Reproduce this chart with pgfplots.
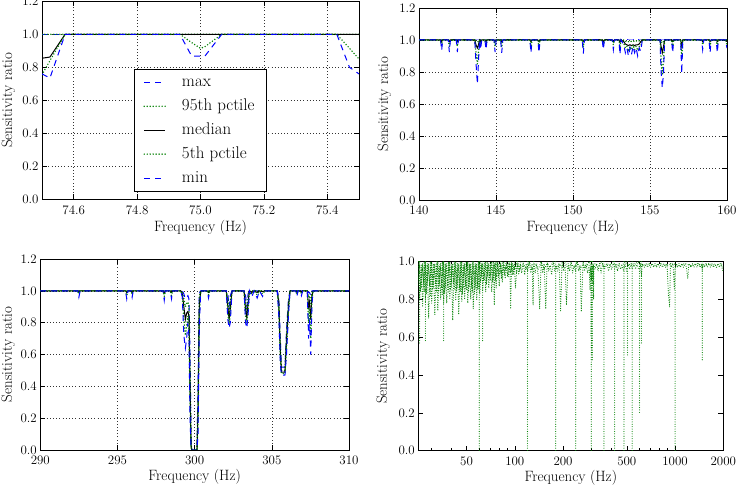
\documentclass[border=0pt]{standalone}
\usepackage{pgfplots}
\usepackage{pgfplotstable}
\pgfplotsset{compat=1.18}
\definecolor{mblue}{RGB}{0,0,255}
\definecolor{mgreen}{RGB}{0,128,0}

\pgfplotstableread{
f mx p95 med p5 mn
74.500 1 1 0.855 0.755 0.76
74.525 1 1 0.862 0.84 0.735
74.573 1 1 1 1 1
74.935 1 1 1 1 1
74.972 1 1 1 0.95 0.868
75.000 1 1 1 0.915 0.868
75.014 1 1 1 0.925 0.868
75.067 1 1 1 1 1
75.430 1 1 1 1 1
75.470 1 1 1 0.915 0.80
75.500 1 1 1 0.85 0.76
}\tabA

\pgfplotstableread{
f mx p95 med p5 mn
140.00 1 1 1 1 1
141.40 1 1 1 1 1
141.47 1 1 0.99 0.965 0.935
141.54 1 1 1 1 1
141.90 1 1 1 1 1
141.97 1 1 0.99 0.96 0.925
142.04 1 1 1 1 1
142.42 1 1 1 1 1
142.49 1 1 0.99 0.96 0.925
142.56 1 1 1 1 1
143.62 1 1 1 1 1
143.70 1 0.99 0.97 0.92 0.86
143.79 1 0.99 0.95 0.85 0.725
143.86 1 0.99 0.97 0.92 0.86
143.93 1 1 1 1 1
144.00 1 1 0.99 0.97 0.94
144.07 1 1 1 1 1
144.28 1 1 1 1 1
144.35 1 1 0.99 0.97 0.94
144.42 1 1 1 1 1
144.87 1 1 1 1 1
144.94 1 1 0.99 0.96 0.925
145.01 1 1 1 1 1
145.30 1 1 1 1 1
145.37 1 1 0.99 0.955 0.92
145.44 1 1 1 1 1
147.20 1 1 1 1 1
147.27 1 1 0.99 0.955 0.92
147.34 1 1 1 1 1
147.72 1 1 1 1 1
147.79 1 1 0.99 0.955 0.92
147.86 1 1 1 1 1
150.60 1 1 1 1 1
150.67 1 1 0.99 0.955 0.915
150.74 1 1 1 1 1
151.90 1 1 1 1 1
151.97 1 1 0.99 0.97 0.94
152.04 1 1 1 1 1
152.55 1 1 1 1 1
152.62 1 1 0.99 0.97 0.94
152.69 1 1 1 1 1
152.98 1 1 1 1 1
153.05 1 1 0.985 0.955 0.91
153.12 1 1 1 1 1
153.30 1 1 0.99 0.98 0.97
153.40 1 0.99 0.975 0.95 0.92
153.50 1 0.995 0.97 0.96 0.95
153.60 1 0.99 0.965 0.93 0.90
153.70 1 0.995 0.97 0.96 0.95
153.80 1 0.99 0.965 0.94 0.91
153.90 1 0.995 0.97 0.97 0.96
154.00 1 0.99 0.965 0.94 0.92
154.10 1 0.995 0.97 0.96 0.95
154.20 1 0.99 0.97 0.935 0.90
154.30 1 0.995 0.975 0.96 0.95
154.40 1 1 0.99 0.96 0.93
154.50 1 1 1 1 1
155.65 1 1 1 1 1
155.72 1 0.99 0.96 0.88 0.80
155.80 1 0.98 0.92 0.78 0.70
155.88 1 0.99 0.96 0.88 0.80
155.95 1 1 1 1 1
156.40 1 1 1 1 1
156.47 1 1 0.99 0.955 0.92
156.54 1 1 1 1 1
156.99 1 1 1 1 1
157.06 1 0.99 0.96 0.88 0.79
157.13 1 1 1 1 1
158.35 1 1 1 1 1
158.42 1 1 0.99 0.97 0.94
158.49 1 1 1 1 1
158.83 1 1 1 1 1
158.90 1 1 0.99 0.96 0.92
158.97 1 1 1 1 1
159.30 1 1 1 1 1
159.37 1 1 0.99 0.96 0.92
159.44 1 1 1 1 1
159.90 1 1 1 1 1
160.00 1 1 0.99 0.97 0.95
}\tabB

\pgfplotstableread{
f mx p95 med p5 mn
290.00 1 1 1 1 1
292.42 1 1 1 1 1
292.50 1 1 0.995 0.98 0.96
292.58 1 1 1 1 1
295.52 1 1 1 1 1
295.60 1 1 0.99 0.97 0.95
295.68 1 1 1 1 1
295.88 1 1 1 1 1
295.95 1 1 0.99 0.975 0.96
296.02 1 1 1 1 1
297.95 1 1 1 1 1
298.03 1 0.995 0.985 0.965 0.94
298.11 1 1 1 1 1
298.42 1 1 1 1 1
298.50 1 1 0.99 0.97 0.95
298.58 1 1 1 1 1
299.10 1 1 1 1 1
299.20 1 0.99 0.98 0.97 0.96
299.30 0.98 0.95 0.90 0.82 0.72
299.40 0.95 0.90 0.82 0.72 0.64
299.48 0.96 0.92 0.86 0.78 0.70
299.56 0.97 0.93 0.87 0.84 0.80
299.63 0.95 0.90 0.84 0.78 0.72
299.70 0.60 0.50 0.40 0.30 0.20
299.77 0.05 0.03 0.02 0.01 0
299.82 0 0 0 0 0
300.15 0 0 0 0 0
300.22 0.40 0.30 0.25 0.20 0.10
300.30 0.98 0.96 0.90 0.85 0.75
300.38 1 1 0.99 0.98 0.97
300.45 1 1 1 1 1
300.82 1 1 1 1 1
300.90 1 1 0.99 0.975 0.955
300.98 1 1 1 1 1
302.05 1 1 1 1 1
302.15 0.98 0.95 0.90 0.86 0.82
302.23 0.90 0.86 0.82 0.79 0.765
302.31 0.97 0.94 0.89 0.85 0.80
302.42 1 1 1 1 1
303.20 1 1 1 1 1
303.30 0.97 0.93 0.88 0.84 0.80
303.38 0.90 0.86 0.83 0.80 0.765
303.46 0.98 0.95 0.92 0.88 0.85
303.55 1 1 1 1 1
303.70 1 1 0.99 0.98 0.96
303.85 1 1 1 1 1
304.05 1 1 0.99 0.975 0.955
304.20 1 1 1 1 1
304.40 1 1 0.995 0.98 0.965
304.55 1 1 1 1 1
305.35 1 1 1 1 1
305.45 0.96 0.94 0.92 0.88 0.85
305.55 0.70 0.66 0.62 0.58 0.55
305.62 0.52 0.50 0.49 0.48 0.47
305.85 0.52 0.50 0.49 0.48 0.47
305.95 0.75 0.72 0.68 0.64 0.60
306.08 0.95 0.93 0.90 0.88 0.85
306.18 1 1 1 1 1
306.55 1 1 1 1 1
306.62 1 1 0.995 0.98 0.965
306.70 1 1 1 1 1
306.85 1 1 1 1 1
306.92 1 1 0.99 0.98 0.97
307.00 1 1 1 1 1
307.30 1 1 1 1 1
307.38 0.99 0.96 0.90 0.80 0.70
307.44 0.99 0.97 0.93 0.88 0.82
307.52 0.97 0.92 0.82 0.70 0.60
307.60 1 0.99 0.97 0.95 0.92
307.68 1 1 1 1 1
310.00 1 1 1 1 1
}\tabC

% panel 4: lower percentile trace
\pgfplotstableread{
f v
25.0 1.00
25.5 0.80
26.1 0.98
26.6 0.76
27.2 1.00
27.7 0.79
28.4 0.99
29.0 0.70
29.7 1.00
30.3 0.78
31.0 0.99
31.7 0.72
32.4 1.00
33.1 0.74
33.8 0.98
34.5 0.80
35.3 1.00
36.0 0.78
36.8 0.99
37.6 0.78
38.5 1.00
39.3 0.80
40.2 0.98
41.0 0.69
41.9 1.00
42.8 0.80
43.8 0.99
44.7 0.72
45.7 1.00
46.7 0.79
47.7 0.98
48.7 0.80
49.8 1.00
50.9 0.78
52.0 0.99
53.1 0.80
54.3 1.00
55.0 0.75
56.7 0.99
57.9 0.80
59.2 1.00
60.5 0.83
61.8 0.99
63.1 0.85
64.5 0.99
65.9 0.84
67.3 1.00
68.8 0.86
70.3 0.99
71.8 0.84
73.4 1.00
74.5 0.77
75.5 1.00
76.6 0.86
78.3 0.99
80.0 0.87
81.7 1.00
83.5 0.89
85.3 0.98
87.2 0.91
89.1 1.00
91.0 0.92
93.0 0.99
94.2 0.75
95.5 1.00
97.0 0.93
99.2 0.99
101.0 0.86
103.6 1.00
105.8 0.93
108.0 0.99
110.4 0.94
112.8 1.00
115.3 0.93
117.8 0.99
120.4 0.95
123.0 1.00
125.7 0.94
128.4 0.99
130.0 0.77
131.2 1.00
134.0 0.94
137.0 0.99
139.9 0.93
143.0 0.75
146.0 1.00
149.2 0.94
152.5 0.99
156.0 0.75
159.2 1.00
162.7 0.95
166.2 0.98
169.8 0.93
173.5 1.00
177.3 0.95
181.1 0.98
185.0 0.95
189.1 0.99
193.0 0.74
197.4 1.00
201.7 0.95
206.0 0.98
210.0 0.77
215.1 0.99
219.8 0.95
224.6 1.00
229.5 0.94
234.4 0.98
239.6 0.95
244.8 1.00
250.1 0.95
255.5 0.98
260.0 0.735
266.7 1.00
272.5 0.95
278.5 0.99
284.5 0.94
290.7 0.98
295.0 0.85
297.0 0.97
300.8 0.90
303.5 0.98
306.0 0.88
308.5 0.99
310.0 0.80
312.0 0.98
316.9 0.96
323.8 0.99
330.8 0.95
338.0 0.99
345.4 0.94
353.0 0.99
360.6 0.96
368.5 0.97
376.4 0.99
384.7 0.95
393.0 0.99
401.6 0.96
410.3 0.99
419.3 0.96
428.3 0.99
437.7 0.95
447.2 0.99
457.0 0.96
466.9 0.98
477.1 0.95
487.4 0.99
497.8 0.95
508.8 0.99
519.9 0.96
531.2 0.99
540.5 0.96
554.6 0.99
566.7 0.96
579.0 0.99
591.6 0.96
600.5 0.96
608.0 0.99
617.0 0.92
625.0 0.99
644.9 0.97
658.9 0.99
673.2 0.97
687.8 0.99
702.8 0.97
718.1 0.99
733.8 0.97
749.7 0.99
766.1 0.97
782.7 0.99
799.8 0.97
817.1 0.99
835.0 0.97
853.0 0.99
871.6 0.97
890.6 0.99
910.0 0.82
925.0 0.76
935.0 0.99
950.0 0.97
970.6 0.99
990.0 0.85
1000.5 0.96
1013.3 0.99
1035.0 0.97
1057.9 0.99
1081.0 0.97
1104.5 0.99
1128.6 0.97
1153.1 0.99
1178.3 0.97
1200.0 0.91
1220.0 0.99
1256.8 0.97
1284.2 0.99
1312.1 0.97
1340.7 0.99
1369.8 0.97
1399.8 0.99
1430.1 0.97
1460.0 0.99
1478.0 0.95
1493.0 0.99
1524.5 0.97
1558.7 0.99
1592.7 0.97
1627.3 0.99
1662.9 0.97
1698.9 0.99
1736.0 0.97
1773.6 0.99
1812.3 0.97
1851.6 0.99
1892.0 0.97
1933.1 0.99
1975.0 0.96
1990.0 0.95
2000.0 0.95
}\tabD

% panel 4: upper percentile trace
\pgfplotstableread{
f v
25.0 0.88
25.5 1.00
26.1 0.86
26.6 0.99
27.2 0.84
27.7 1.00
28.4 0.88
29.0 0.99
29.7 0.82
30.3 1.00
31.0 0.86
31.7 0.99
32.4 0.84
33.1 1.00
33.8 0.87
34.5 0.99
35.3 0.82
36.0 1.00
36.8 0.86
37.6 0.99
38.5 0.84
39.3 1.00
40.2 0.87
41.0 0.99
41.9 0.85
42.8 1.00
43.8 0.86
44.7 0.99
45.7 0.84
46.7 1.00
47.7 0.86
48.7 0.99
49.8 0.85
50.9 1.00
52.0 0.87
53.1 0.99
54.3 0.84
55.5 1.00
56.7 0.86
57.9 0.99
59.2 0.85
60.5 1.00
61.8 0.92
63.1 0.99
64.5 0.90
65.9 1.00
67.3 0.92
68.8 0.99
70.3 0.90
71.8 1.00
73.4 0.91
75.0 0.99
76.6 0.92
78.3 1.00
80.0 0.93
81.7 0.99
83.5 0.93
85.3 1.00
87.2 0.95
89.1 0.99
91.0 0.95
93.0 1.00
95.0 0.95
97.0 0.99
99.2 0.96
103.6 1.00
108.0 0.96
112.8 0.99
117.8 0.96
123.0 1.00
128.4 0.96
134.0 0.99
139.9 0.96
146.0 1.00
152.5 0.96
159.2 0.99
166.2 0.97
173.5 1.00
181.1 0.96
189.1 0.99
197.4 0.97
206.0 1.00
215.1 0.96
224.6 0.99
234.4 0.97
244.8 1.00
255.5 0.96
266.7 0.99
278.5 0.97
290.7 1.00
303.5 0.97
316.9 0.99
330.8 0.97
345.4 1.00
360.6 0.97
376.4 0.99
393.0 0.98
410.3 1.00
428.3 0.97
447.2 0.99
466.9 0.98
487.4 1.00
508.8 0.98
531.2 0.99
554.6 0.98
579.0 1.00
631.1 0.98
687.8 0.99
749.7 0.98
817.1 0.99
890.6 0.98
970.6 0.99
1057.9 0.98
1153.1 0.99
1256.8 0.98
1369.8 0.99
1493.0 0.98
1627.3 0.99
1773.6 0.98
1933.1 0.99
2000.0 0.97
}\tabE

% panel 4: median-like trace, low frequencies
\pgfplotstableread{
f v
25.2 1.00
25.8 0.84
26.4 0.99
27.0 0.88
27.5 1.00
28.1 0.83
28.7 0.99
29.4 0.87
30.0 1.00
30.6 0.85
31.3 0.99
32.0 0.88
32.8 1.00
33.5 0.84
34.2 0.99
35.0 0.86
35.7 1.00
36.5 0.83
37.2 0.99
38.0 0.87
38.9 1.00
39.7 0.85
40.6 0.99
41.5 0.88
42.4 1.00
43.3 0.84
44.2 0.99
45.2 0.86
46.2 1.00
47.2 0.83
48.2 0.99
49.3 0.87
50.4 1.00
51.5 0.84
52.6 0.99
53.7 0.86
54.9 1.00
56.1 0.83
57.3 0.99
58.5 0.86
59.8 1.00
61.1 0.89
62.4 0.99
63.8 0.90
65.2 1.00
66.6 0.88
68.0 0.99
69.5 0.91
71.0 1.00
72.6 0.89
74.2 0.99
75.8 0.90
77.4 1.00
79.1 0.92
80.9 0.99
82.6 0.91
84.4 1.00
86.2 0.93
88.1 0.99
90.0 0.92
92.0 1.00
94.0 0.94
96.0 0.99
98.1 0.93
100.2 1.00
102.4 0.94
104.6 0.99
106.9 0.95
109.2 1.00
}\tabG

% panel 4: deep narrow lines
\pgfplotstableread{
f v
25.5 1
25.5 0.56
nan nan
27.7 1
27.7 0.58
nan nan
36.0 1
36.0 0.57
nan nan
60.0 1
60.0 0
nan nan
63.0 1
63.0 0.58
nan nan
120.0 1
120.0 0
nan nan
180.0 1
180.0 0
nan nan
240.0 1
240.0 0
nan nan
298.5 1
298.5 0.60
nan nan
300.0 1
300.0 0
nan nan
302.0 1
302.0 0.50
nan nan
305.0 1
305.0 0.48
nan nan
360.0 1
360.0 0
nan nan
420.0 1
420.0 0
nan nan
480.0 1
480.0 0
nan nan
505.0 1
505.0 0.50
nan nan
540.0 1
540.0 0
nan nan
600.0 1
600.0 0.20
nan nan
617.0 1
617.0 0.56
nan nan
1000.0 1
1000.0 0
nan nan
1478.0 1
1478.0 0.47
}\tabF

\pgfplotsset{
  mpl/.style={
    scale only axis,
    axis line style={black, line width=0.8pt},
    tick align=inside,
    major tick length=5pt,
    minor tick length=2.5pt,
    every tick/.style={black, line width=0.6pt},
    tick label style={font=\fontsize{13}{15}\selectfont},
    x tick label style={yshift=-2.5bp},
    label style={font=\fontsize{15}{17}\selectfont},
    /pgf/number format/assume math mode=true,
    ylabel={Sensitivity ratio},
    xlabel={Frequency (Hz)},
    xlabel style={at={(axis description cs:0.5,-0.145)}, anchor=center},
    y tick label style={/pgf/number format/.cd, fixed, fixed zerofill, precision=1, /tikz/.cd},
  },
  gridded/.style={grid=major, major grid style={black!80, line width=0.5pt, dash pattern=on 0.8pt off 2.4pt}},
  smax/.style={mblue, line width=1pt, dash pattern=on 6pt off 5pt},
  sp95/.style={mgreen, line width=1.6pt, line cap=round, dash pattern=on 0pt off 3pt},
  smed/.style={black, line width=1pt},
  sp5/.style={mgreen, line width=1.6pt, line cap=round, dash pattern=on 0pt off 3pt},
  smin/.style={mblue, line width=1pt, dash pattern=on 6pt off 5pt},
  sgreen4/.style={mgreen, line width=1.1pt, line cap=round, dash pattern=on 0pt off 2.4pt},
}

\begin{document}
\begin{tikzpicture}
\path[use as bounding box] (0,0) rectangle (737bp,485bp);

% Panel 1
\begin{axis}[mpl, gridded,
  at={(42bp,285.7bp)}, width=317bp, height=198bp,
  xmin=74.5, xmax=75.5, ymin=0, ymax=1.2,
  xtick={74.6,74.8,75.0,75.2,75.4},
  ytick={0,0.2,0.4,0.6,0.8,1.0,1.2},
  x tick label style={/pgf/number format/.cd, fixed, fixed zerofill, precision=1, /tikz/.cd},
  ylabel style={at={(axis description cs:-0.106,0.5)}, anchor=center},
  legend cell align=left,
  legend image code/.code={\draw[#1] (0bp,0bp) -- (21bp,0bp);},
  legend style={at={(axis description cs:0.5,0.04)}, anchor=south, draw=black, line width=0.8pt,
    font=\fontsize{17}{20}\selectfont, row sep=6pt,
    inner xsep=9pt, inner ysep=4pt,
    nodes={inner xsep=3pt, inner ysep=1pt, text height=12pt, text depth=4pt},
    /tikz/every odd column/.append style={column sep=13bp}},
]
\addplot[smax] table[x=f, y=mx] {\tabA};
\addlegendentry{max}
\addplot[sp95] table[x=f, y=p95] {\tabA};
\addlegendentry{95th pctile}
\addplot[smed] table[x=f, y=med] {\tabA};
\addlegendentry{median}
\addplot[sp5] table[x=f, y=p5] {\tabA};
\addlegendentry{5th pctile}
\addplot[smin] table[x=f, y=mn] {\tabA};
\addlegendentry{min}
\end{axis}

% Panel 2
\begin{axis}[mpl, gridded,
  at={(419bp,285bp)}, width=308bp, height=192bp,
  xmin=140, xmax=160, ymin=0, ymax=1.2,
  xtick={140,145,150,155,160},
  ytick={0,0.2,0.4,0.6,0.8,1.0,1.2},
  ylabel style={at={(axis description cs:-0.112,0.5)}, anchor=center},
]
\addplot[smax] table[x=f, y=mx] {\tabB};
\addplot[sp95] table[x=f, y=p95] {\tabB};
\addplot[smed] table[x=f, y=med] {\tabB};
\addplot[sp5] table[x=f, y=p5] {\tabB};
\addplot[smin] table[x=f, y=mn] {\tabB};
\end{axis}

% Panel 3
\begin{axis}[mpl, gridded,
  at={(40.3bp,35bp)}, width=308.7bp, height=191bp,
  xmin=290, xmax=310, ymin=0, ymax=1.2,
  xtick={290,295,300,305,310},
  ytick={0,0.2,0.4,0.6,0.8,1.0,1.2},
  ylabel style={at={(axis description cs:-0.104,0.5)}, anchor=center},
  xlabel style={at={(axis description cs:0.5,-0.14)}, anchor=center},
]
\addplot[smax] table[x=f, y=mx] {\tabC};
\addplot[sp95] table[x=f, y=p95] {\tabC};
\addplot[smed] table[x=f, y=med] {\tabC};
\addplot[sp5] table[x=f, y=p5] {\tabC};
\addplot[smin] table[x=f, y=mn] {\tabC};
\end{axis}

% Panel 4
\begin{axis}[mpl,
  at={(418.3bp,34.3bp)}, width=305bp, height=189bp,
  xmode=log, xmin=25, xmax=2000, ymin=0, ymax=1.0,
  xtick={50,100,200,500,1000,2000},
  xticklabels={50,100,200,500,1000,2000},
  minor xtick={30,40,60,70,80,90,300,400,600,700,800,900},
  ytick={0,0.2,0.4,0.6,0.8,1.0},
  ylabel style={at={(axis description cs:-0.115,0.5)}, anchor=center},
  xlabel style={at={(axis description cs:0.5,-0.141)}, anchor=center},
]
\addplot[sgreen4] table[x=f, y=v] {\tabE};
\addplot[sgreen4] table[x=f, y=v] {\tabG};
\addplot[sgreen4] table[x=f, y=v] {\tabD};
\addplot[sgreen4, unbounded coords=jump] table[x=f, y=v] {\tabF};
\end{axis}
\end{tikzpicture}
\end{document}
